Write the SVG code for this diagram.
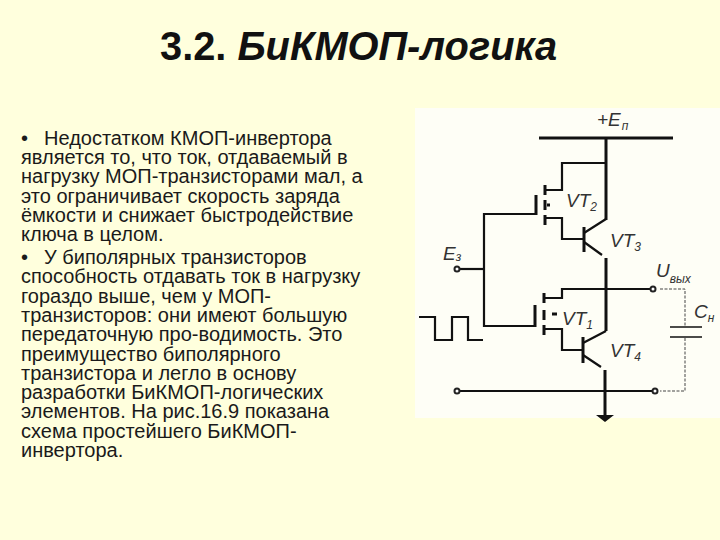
<svg xmlns="http://www.w3.org/2000/svg" width="720" height="540" viewBox="0 0 720 540">
<style>
.t{font-family:"Liberation Sans",Arial,sans-serif;fill:#111}
.b{font-size:20px;fill:#1a1a1a}
.l{font-size:19px;font-style:italic;fill:#333}
.s{font-size:12px;font-style:italic;fill:#333}
.w{fill:none;stroke:#111;stroke-width:2.200;stroke-linejoin:miter}
.h{fill:none;stroke:#111;stroke-width:3}
.d{fill:none;stroke:#444;stroke-width:1;stroke-dasharray:3 1.500}
.o{fill:#fff;stroke:#222;stroke-width:2}
.c{fill:none;stroke:#111;stroke-width:1.500}
</style>
<rect width="720" height="540" fill="#FFFFDD"/>
<rect x="415" y="108" width="305" height="310" fill="#FEFEF6"/>
<text class="t" x="160" y="60" font-size="39.800" font-weight="bold">3.2. <tspan font-style="italic">БиКМОП-логика</tspan></text>
<text id="body" class="t b">
<tspan x="21" y="145">•</tspan><tspan x="44" y="145">Недостатком КМОП-инвертора</tspan>
<tspan x="21" y="164.200">является то, что ток, отдаваемый в</tspan>
<tspan x="21" y="183.300">нагрузку МОП-транзисторами мал, а</tspan>
<tspan x="21" y="202.500">это ограничивает скорость заряда</tspan>
<tspan x="21" y="221.600">ёмкости и снижает быстродействие</tspan>
<tspan x="21" y="240.800">ключа в целом.</tspan>
<tspan x="21" y="264">•</tspan><tspan x="44" y="264">У биполярных транзисторов</tspan>
<tspan x="21" y="283.300">способность отдавать ток в нагрузку</tspan>
<tspan x="21" y="302.600">гораздо выше, чем у МОП-</tspan>
<tspan x="21" y="321.900">транзисторов: они имеют большую</tspan>
<tspan x="21" y="341.200">передаточную про-водимость. Это</tspan>
<tspan x="21" y="360.500">преимущество биполярного</tspan>
<tspan x="21" y="379.800">транзистора и легло в основу</tspan>
<tspan x="21" y="399.100">разработки БиКМОП-логических</tspan>
<tspan x="21" y="418.400">элементов. На рис.16.9 показана</tspan>
<tspan x="21" y="437.700">схема простейшего БиКМОП-</tspan>
<tspan x="21" y="457">инвертора.</tspan>
</text>
<g id="connectors">
<path class="h" d="M539 138H673"/>
<path class="h" d="M606 138V220"/>
<path class="w" d="M606 163H562V190H546M546 218H562V239H584"/>
<path class="w" d="M536 214H484V326H535"/>
<path class="h" d="M606 258V331"/>
<path class="w" d="M459 269H484"/>
<path class="w" d="M651 289H562V298H545M545 329H562V350H583"/>
<path class="w" d="M419 317H435V340H452V317H468V340H483"/>
<path class="h" d="M605 370V416"/>
<path class="w" d="M459 391H653"/>
<path class="d" d="M660 289H685V327M685 338V391H660"/>
</g>
<g id="VT2">
<path class="h" d="M545 185V195M545 200V210M545 215V225"/><path class="h" d="M536 195V215"/>
<path class="h" d="M547 205H550"/>
<path class="h" d="M584 227V252"/>
<path class="w" d="M584 233L606 219M584 242L602 255"/>
</g>
<g id="VT1">
<path class="h" d="M544 293V303M544 310V320M544 325V335"/><path class="h" d="M535 305V327"/>
<path class="h" d="M552 314H557"/>
<path class="h" d="M583 337V363"/>
<path class="w" d="M583 343L606 331M583 355L601 367"/>
</g>
<g id="terminals">
<circle class="o" cx="457" cy="269" r="2.500"/>
<circle class="o" cx="653" cy="289" r="2.500"/>
<circle class="o" cx="457" cy="391" r="2.500"/>
<circle class="o" cx="655" cy="391" r="2.500"/>
</g>
<g id="capacitor"><path class="c" d="M670 327H702M670 337H702"/></g>
<path id="ground" d="M596 415H614L605 422Z" fill="#111"/>
<g id="labels">
<text class="t l" x="597" y="126">+E<tspan class="s" dy="4" dx="1">п</tspan></text>
<text class="t l" x="566" y="207">VT<tspan class="s" dy="4">2</tspan></text>
<text class="t l" x="610" y="247">VT<tspan class="s" dy="4">3</tspan></text>
<text class="t l" x="443" y="260">E<tspan class="s" dy="1">з</tspan></text>
<text class="t l" x="656" y="277">U<tspan class="s" dy="6">вых</tspan></text>
<text class="t l" x="562" y="325">VT<tspan class="s" dy="4">1</tspan></text>
<text class="t l" x="694" y="318">C<tspan class="s" dy="4">н</tspan></text>
<text class="t l" x="610" y="357">VT<tspan class="s" dy="4">4</tspan></text>
</g>
</svg>
